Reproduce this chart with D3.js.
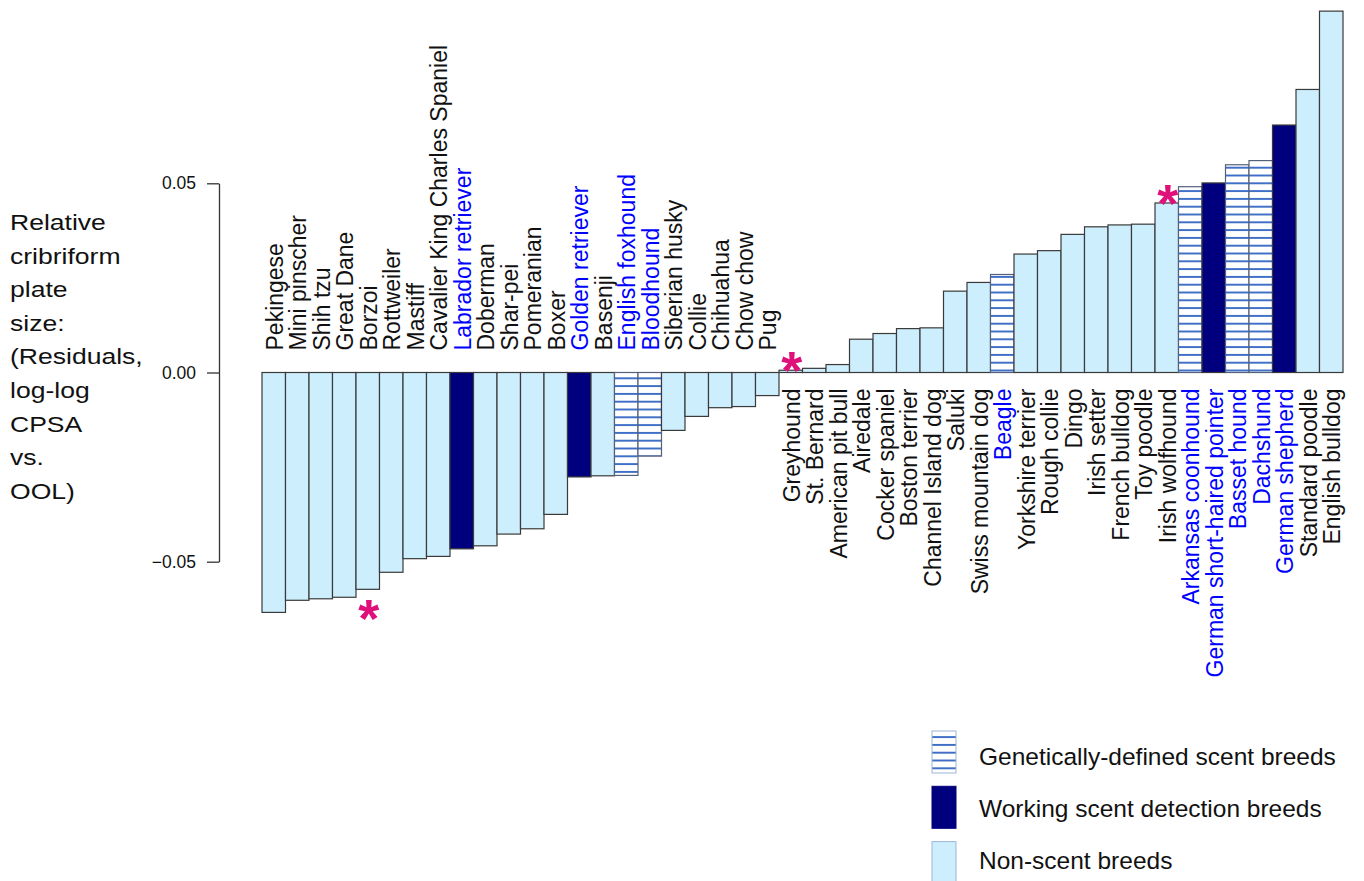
<!DOCTYPE html>
<html>
<head>
<meta charset="utf-8">
<script src="https://cdn.jsdelivr.net/npm/d3@7"></script>
<style>
	body { margin: 0; background: #fff; }
	svg { font-family: "Liberation Sans", Arial, Helvetica, sans-serif; }
</style>
</head>
<body>
<div id="chart"></div>
<script>
var breeds = ["Pekingese", "Mini pinscher", "Shih tzu", "Great Dane", "Borzoi", "Rottweiler", "Mastiff",
	"Cavalier King Charles Spaniel", "Labrador retriever", "Doberman", "Shar-pei", "Pomeranian", "Boxer",
	"Golden retriever", "Basenji", "English foxhound", "Bloodhound", "Siberian husky", "Collie", "Chihuahua",
	"Chow chow", "Pug", "Greyhound", "St. Bernard", "American pit bull", "Airedale", "Cocker spaniel",
	"Boston terrier", "Channel Island dog", "Saluki", "Swiss mountain dog", "Beagle", "Yorkshire terrier",
	"Rough collie", "Dingo", "Irish setter", "French bulldog", "Toy poodle", "Irish wolfhound",
	"Arkansas coonhound", "German short-haired pointer", "Basset hound", "Dachshund", "German shepherd",
	"Standard poodle", "English bulldog"];

var residuals = [-0.0634, -0.0602, -0.0598, -0.0594, -0.0573, -0.0528, -0.0492,
	-0.0486, -0.0466, -0.0458, -0.0427, -0.0413, -0.0375,
	-0.0276, -0.0273, -0.0272, -0.0221, -0.0153, -0.0116, -0.0093,
	-0.0090, -0.0061, 0.0006, 0.0011, 0.0021, 0.0088, 0.0103,
	0.0116, 0.0118, 0.0215, 0.0238, 0.0259, 0.0313,
	0.0322, 0.0365, 0.0385, 0.0390, 0.0392, 0.0448,
	0.0491, 0.0501, 0.0549, 0.0560, 0.0654,
	0.0748, 0.0955];

// n = non-scent, w = working scent detection, g = genetically-defined scent
var groups = ["n", "n", "n", "n", "n", "n", "n",
	"n", "w", "n", "n", "n", "n",
	"w", "n", "g", "g", "n", "n", "n",
	"n", "n", "n", "n", "n", "n", "n",
	"n", "n", "n", "n", "g", "n",
	"n", "n", "n", "n", "n", "n",
	"g", "w", "g", "g", "w",
	"n", "n"];

var starred = ["Borzoi", "Greyhound", "Irish wolfhound"];

var tickValues = [-0.05, 0, 0.05];

var yLabelLines = ["Relative", "cribriform", "plate", "size:", "(Residuals,", "log-log", "CPSA", "vs.", "OOL)"];

var legendGroups = ["g", "w", "n"];
var legendLabels = ["Genetically-defined scent breeds", "Working scent detection breeds", "Non-scent breeds"];

var width = 1364, height = 881;

var data = breeds.map(function(b, i) {
	return { name: b, value: residuals[i], group: groups[i] };
});

var xScale = d3.scaleBand()
		.domain(breeds)
		.range([262, 1343])
		.padding(0);

var yScale = d3.scaleLinear()
		.domain([-0.05, 0.05])
		.range([561.7, 183.3]);

function fillFor(g) {
	if (g === "w") return "#00007f";
	if (g === "g") return "url(#hatch)";
	return "#cdeefc";
}

var svg = d3.select("#chart").append("svg")
		.attr("width", width)
		.attr("height", height);

// Hatch pattern for genetically-defined scent breeds
var pattern = svg.append("defs").append("pattern")
		.attr("id", "hatch")
		.attr("patternUnits", "userSpaceOnUse")
		.attr("width", 12)
		.attr("height", 7.8);
pattern.append("rect")
		.attr("width", 12)
		.attr("height", 7.8)
		.attr("fill", "#fff");
pattern.append("line")
		.attr("x1", 0).attr("x2", 12)
		.attr("y1", 3.9).attr("y2", 3.9)
		.attr("stroke", "#3f6fc7")
		.attr("stroke-width", 2);

// Y axis
var yAxis = d3.axisLeft(yScale)
		.tickValues(tickValues)
		.tickFormat(d3.format(".2f"))
		.tickSize(12)
		.tickSizeOuter(0)
		.tickPadding(11);

var axisG = svg.append("g")
		.attr("transform", "translate(219,0)")
		.call(yAxis);
axisG.select(".domain").attr("stroke", "#333").attr("stroke-width", 1.3);
axisG.selectAll(".tick line").attr("stroke", "#333").attr("stroke-width", 1.3);
axisG.selectAll(".tick text")
		.attr("font-family", "\"Liberation Sans\", Arial, sans-serif")
		.attr("font-size", 17.5)
		.attr("fill", "#111");

// Y axis title
svg.append("g")
		.attr("transform", "translate(10,0) scale(1.18,1)")
	.selectAll("text")
	.data(yLabelLines)
	.enter().append("text")
		.attr("x", 0)
		.attr("y", function(d, i) { return 230 + i * 33.6; })
		.attr("font-size", 22.5)
		.attr("fill", "#111")
		.text(function(d) { return d; });

// Bars
svg.append("g").attr("class", "bars")
	.selectAll("rect")
	.data(data)
	.enter().append("rect")
		.attr("x", function(d) { return xScale(d.name); })
		.attr("width", xScale.bandwidth())
		.attr("y", function(d) { return yScale(Math.max(0, d.value)); })
		.attr("height", function(d) { return Math.abs(yScale(d.value) - yScale(0)); })
		.attr("fill", function(d) { return fillFor(d.group); })
		.attr("stroke", function(d) { return d.group === "g" ? "#55607a" : "#3a3a3a"; })
		.attr("stroke-width", 1.2);

// Bar labels
svg.append("g").attr("class", "labels")
	.selectAll("text")
	.data(data)
	.enter().append("text")
		.attr("transform", function(d) {
			var cx = xScale(d.name) + xScale.bandwidth() / 2;
			var ty = d.value < 0 ? yScale(0) - 22 : yScale(0) + 16;
			return "translate(" + cx + "," + ty + ") rotate(-90)";
		})
		.attr("dy", "0.4em")
		.attr("text-anchor", function(d) { return d.value < 0 ? "start" : "end"; })
		.attr("font-size", 23)
		.attr("fill", function(d) { return d.group === "n" ? "#111" : "#0000ff"; })
		.text(function(d) { return d.name; });

// Significance stars
var starSize = 54;
svg.append("g").attr("class", "stars")
	.selectAll("text")
	.data(data.filter(function(d) { return starred.indexOf(d.name) >= 0; }))
	.enter().append("text")
		.attr("x", function(d) { return xScale(d.name) + xScale.bandwidth() / 2 + 1; })
		.attr("y", function(d) {
			var cy = d.value < 0 ? yScale(d.value) + 16 : yScale(d.value) - 13;
			return cy + starSize * 0.585;
		})
		.attr("text-anchor", "middle")
		.attr("font-size", starSize)
		.attr("font-weight", "bold")
		.attr("fill", "#e0107a")
		.text("*");

// Legend
var legend = svg.append("g").attr("class", "legend");

legend.selectAll("rect")
	.data(legendGroups)
	.enter().append("rect")
		.attr("x", 932)
		.attr("y", function(d, i) { return 731 + i * 55.3; })
		.attr("width", 24)
		.attr("height", 42)
		.attr("fill", function(d) { return fillFor(d); })
		.attr("stroke", function(d) { return d === "w" ? "#00007f" : "#9fb3d9"; })
		.attr("stroke-width", 1);

legend.selectAll("text")
	.data(legendLabels)
	.enter().append("text")
		.attr("x", 979)
		.attr("y", function(d, i) { return 765 + i * 52.2; })
		.attr("font-size", 24.5)
		.attr("fill", "#111")
		.text(function(d) { return d; });
</script>
</body>
</html>
